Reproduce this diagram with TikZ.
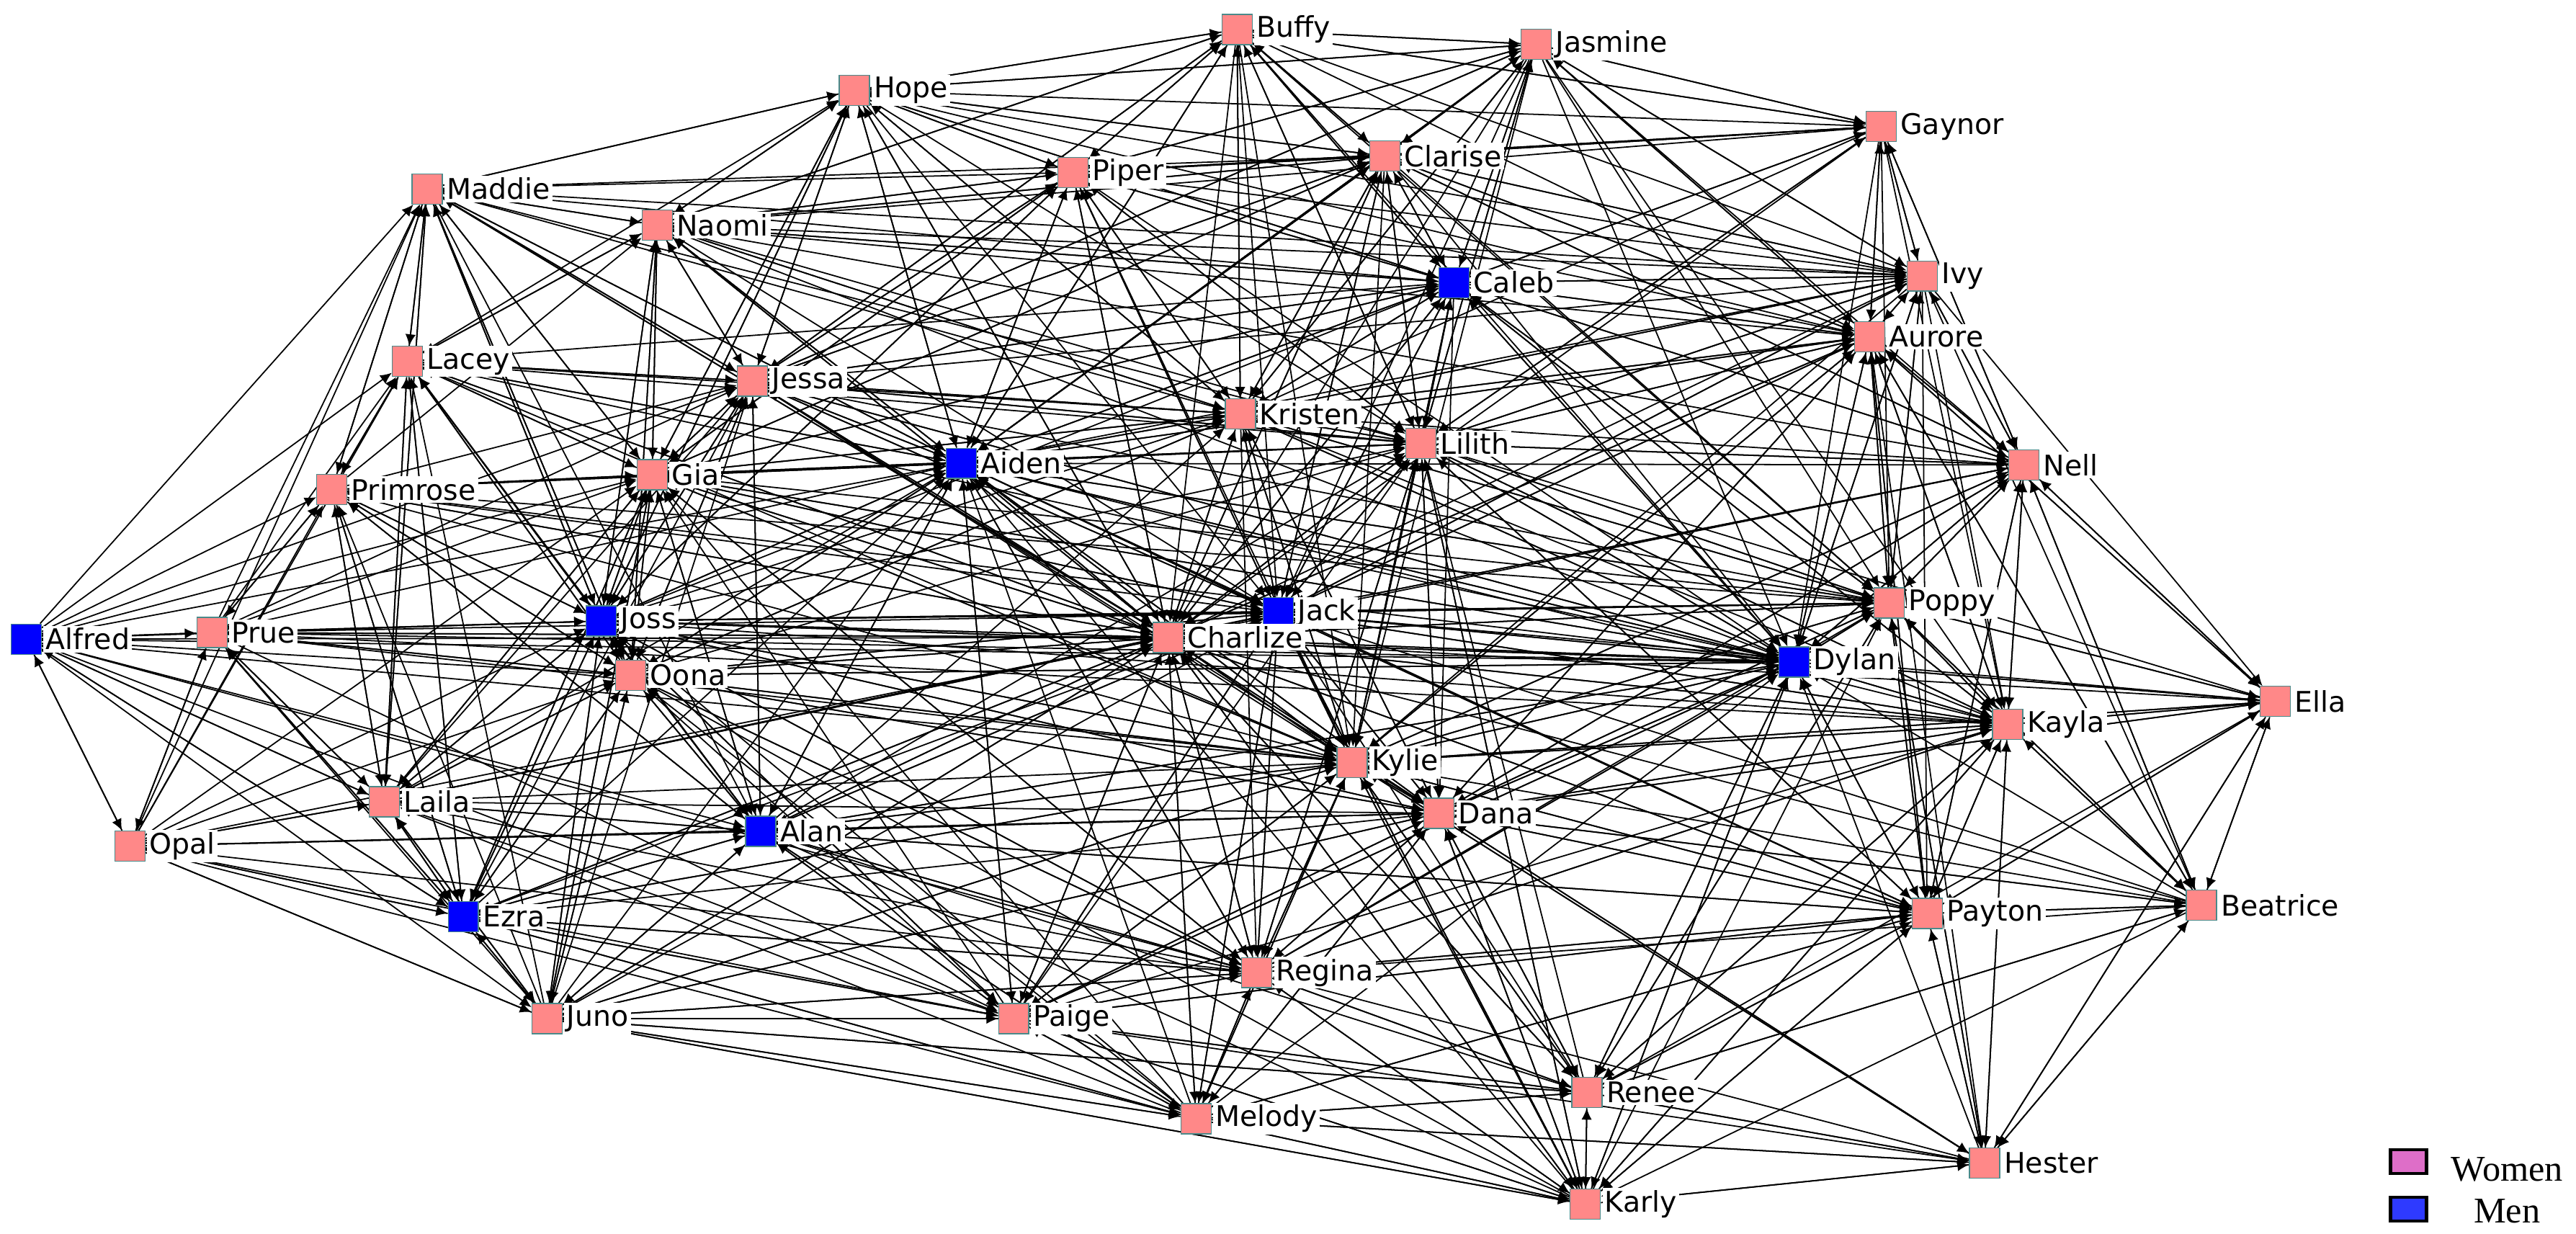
\documentclass[tikz,border=0pt]{standalone}
\usepackage{fontspec}
\setmainfont{Liberation Serif}
\newfontfamily\namefont{DejaVu Sans}
\usetikzlibrary{arrows.meta,backgrounds}
\definecolor{womanpink}{HTML}{FF8888}
\definecolor{manblue}{HTML}{0000FF}
\definecolor{boxedge}{HTML}{4A8A8A}
\definecolor{legpink}{HTML}{DE6EC8}
\definecolor{legblue}{HTML}{2E3AFF}

\begin{document}
\begin{tikzpicture}[x=0.025cm, y=-0.025cm,
        person/.style={rectangle, draw=boxedge, line width=0.4pt, minimum width=0.46cm, minimum height=0.46cm, inner sep=0pt},
        woman/.style={person, fill=womanpink},
        man/.style={person, fill=manblue},
        namebox/.style={fill=white, inner sep=1pt, label distance=0.5pt, font=\namefont\fontsize{12.3}{14}\selectfont},
        legbox/.style={rectangle, draw=black, line width=1.4pt, minimum width=0.55cm, minimum height=0.36cm, inner sep=0pt}
]
    \useasboundingbox (0,0) rectangle (1568,751);

    \node[woman, label={[namebox]0:Buffy}] (Buffy) at (753,18) {};
    \node[woman, label={[namebox]0:Jasmine}] (Jasmine) at (935,27) {};
    \node[woman, label={[namebox]0:Hope}] (Hope) at (520,55) {};
    \node[woman, label={[namebox]0:Gaynor}] (Gaynor) at (1145,77) {};
    \node[woman, label={[namebox]0:Clarise}] (Clarise) at (843,95) {};
    \node[woman, label={[namebox]0:Piper}] (Piper) at (653,105) {};
    \node[woman, label={[namebox]0:Maddie}] (Maddie) at (260,115) {};
    \node[woman, label={[namebox]0:Naomi}] (Naomi) at (400,137) {};
    \node[man, label={[namebox]0:Caleb}] (Caleb) at (885,172) {};
    \node[woman, label={[namebox]0:Ivy}] (Ivy) at (1170,168) {};
    \node[woman, label={[namebox]0:Aurore}] (Aurore) at (1138,205) {};
    \node[woman, label={[namebox]0:Lacey}] (Lacey) at (248,220) {};
    \node[woman, label={[namebox]0:Jessa}] (Jessa) at (458,232) {};
    \node[woman, label={[namebox]0:Kristen}] (Kristen) at (755,252) {};
    \node[woman, label={[namebox]0:Lilith}] (Lilith) at (865,270) {};
    \node[man, label={[namebox]0:Aiden}] (Aiden) at (585,282) {};
    \node[woman, label={[namebox]0:Nell}] (Nell) at (1232,283) {};
    \node[woman, label={[namebox]0:Primrose}] (Primrose) at (202,298) {};
    \node[woman, label={[namebox]0:Gia}] (Gia) at (397,289) {};
    \node[woman, label={[namebox]0:Poppy}] (Poppy) at (1150,367) {};
    \node[man, label={[namebox]0:Jack}] (Jack) at (778,373) {};
    \node[man, label={[namebox]0:Joss}] (Joss) at (366,378) {};
    \node[man, label={[namebox]0:Alfred}] (Alfred) at (16,389) {};
    \node[woman, label={[namebox]0:Prue}] (Prue) at (129,385) {};
    \node[woman, label={[namebox]0:Charlize}] (Charlize) at (711,388) {};
    \node[woman, label={[namebox]0:Oona}] (Oona) at (384,411) {};
    \node[man, label={[namebox]0:Dylan}] (Dylan) at (1092,403) {};
    \node[woman, label={[namebox]0:Ella}] (Ella) at (1385,427) {};
    \node[woman, label={[namebox]0:Kayla}] (Kayla) at (1222,441) {};
    \node[woman, label={[namebox]0:Kylie}] (Kylie) at (823,464) {};
    \node[woman, label={[namebox]0:Dana}] (Dana) at (876,495) {};
    \node[woman, label={[namebox]0:Laila}] (Laila) at (234,488) {};
    \node[man, label={[namebox]0:Alan}] (Alan) at (463,506) {};
    \node[woman, label={[namebox]0:Opal}] (Opal) at (79,515) {};
    \node[man, label={[namebox]0:Ezra}] (Ezra) at (282,558) {};
    \node[woman, label={[namebox]0:Beatrice}] (Beatrice) at (1340,551) {};
    \node[woman, label={[namebox]0:Payton}] (Payton) at (1173,556) {};
    \node[woman, label={[namebox]0:Regina}] (Regina) at (765,592) {};
    \node[woman, label={[namebox]0:Juno}] (Juno) at (333,620) {};
    \node[woman, label={[namebox]0:Paige}] (Paige) at (617,620) {};
    \node[woman, label={[namebox]0:Renee}] (Renee) at (966,665) {};
    \node[woman, label={[namebox]0:Melody}] (Melody) at (728,681) {};
    \node[woman, label={[namebox]0:Hester}] (Hester) at (1208,708) {};
    \node[woman, label={[namebox]0:Karly}] (Karly) at (965,733) {};

    % legend
    \node[legbox, fill=legpink] (legwomen) at (1466,707) {};
    \node[legbox, fill=legblue] (legmen) at (1466,736) {};
    \node[font=\fontsize{15.7}{18}\selectfont, inner sep=0pt] (womentext) at (1526,712) {Women};
    \node[font=\fontsize{15.7}{18}\selectfont, inner sep=0pt] (mentext) at (1526,737) {Men};

\begin{pgfonlayer}{background}
\begin{scope}[-{Latex[length=5pt,width=4.5pt]}, line width=0.55pt]
    \foreach \src/\dsts in {
        Alfred/{Prue,Opal,Laila,Joss,Oona,Maddie,Primrose,Lacey,Charlize,Ezra,Juno,Alan,Kylie,Gia,Jessa,Aiden,Dylan,Paige,Regina},
        Prue/{Joss,Oona,Alfred,Laila,Lacey,Primrose,Maddie,Gia,Charlize,Jessa,Ezra,Opal,Dylan,Kylie,Jack,Aiden,Paige,Kayla},
        Opal/{Alfred,Prue,Laila,Primrose,Lacey,Joss,Alan,Ezra,Juno,Melody,Gia,Charlize,Maddie,Oona,Regina,Paige,Dana},
        Primrose/{Lacey,Maddie,Gia,Joss,Laila,Prue,Aiden,Jessa,Ezra,Oona,Naomi,Charlize,Kylie,Dylan,Jack,Alan,Poppy},
        Lacey/{Maddie,Primrose,Gia,Jessa,Laila,Joss,Naomi,Aiden,Hope,Oona,Ezra,Kristen,Charlize,Lilith,Kylie,Dylan,Alan,Caleb},
        Maddie/{Naomi,Lacey,Jessa,Gia,Hope,Piper,Clarise,Primrose,Joss,Caleb,Aiden,Laila,Charlize,Kristen,Lilith,Ivy,Oona,Alan},
        Naomi/{Maddie,Hope,Jessa,Gia,Piper,Clarise,Caleb,Aiden,Joss,Lacey,Buffy,Kristen,Ivy,Oona,Lilith,Aurore,Charlize,Dylan,Jack,Nell},
        Hope/{Buffy,Piper,Naomi,Clarise,Jessa,Maddie,Jasmine,Caleb,Gia,Kristen,Aiden,Gaynor,Lilith,Ivy,Aurore,Charlize,Jack,Joss},
        Piper/{Buffy,Clarise,Hope,Jasmine,Caleb,Kristen,Naomi,Jessa,Aiden,Lilith,Charlize,Ivy,Gaynor,Aurore,Dylan,Jack,Kylie,Gia,Joss},
        Buffy/{Jasmine,Clarise,Piper,Hope,Caleb,Kristen,Lilith,Aurore,Ivy,Charlize,Gaynor,Aiden,Jessa,Naomi,Dylan,Poppy,Jack,Kylie},
        Jasmine/{Buffy,Clarise,Gaynor,Caleb,Ivy,Aurore,Piper,Lilith,Kristen,Hope,Nell,Poppy,Aiden,Jessa,Dylan,Jack,Kayla,Charlize,Kylie},
        Gaynor/{Ivy,Aurore,Jasmine,Clarise,Caleb,Nell,Buffy,Piper,Dylan,Lilith,Kristen,Poppy,Kayla,Charlize,Naomi},
        Clarise/{Buffy,Jasmine,Caleb,Piper,Gaynor,Ivy,Aurore,Lilith,Kristen,Hope,Naomi,Jack,Charlize,Dylan,Aiden,Jessa,Gia,Poppy,Kylie,Nell},
        Caleb/{Clarise,Ivy,Aurore,Lilith,Jasmine,Buffy,Kristen,Aiden,Gaynor,Piper,Jack,Dylan,Charlize,Kylie,Poppy,Jessa,Gia,Naomi,Hope,Nell,Kayla,Dana},
        Ivy/{Aurore,Gaynor,Jasmine,Caleb,Clarise,Nell,Poppy,Dylan,Lilith,Ella,Kayla,Kristen,Aiden,Charlize,Jack,Payton,Beatrice,Kylie},
        Aurore/{Ivy,Gaynor,Caleb,Nell,Poppy,Dylan,Clarise,Jasmine,Lilith,Kayla,Ella,Beatrice,Payton,Kristen,Aiden,Jack,Charlize,Kylie,Dana,Hester},
        Nell/{Aurore,Ivy,Poppy,Kayla,Dylan,Ella,Beatrice,Payton,Caleb,Lilith,Gaynor,Jack,Charlize,Kylie,Kristen,Dana,Aiden,Clarise},
        Poppy/{Dylan,Kayla,Payton,Ella,Aurore,Nell,Ivy,Charlize,Jack,Lilith,Kylie,Beatrice,Hester,Aiden,Kristen,Dana,Caleb,Joss,Renee},
        Dylan/{Poppy,Kayla,Payton,Charlize,Jack,Kylie,Dana,Aurore,Lilith,Caleb,Ella,Ivy,Nell,Aiden,Joss,Renee,Karly,Gia,Jessa,Oona,Kristen,Regina,Alan,Paige},
        Kayla/{Dylan,Poppy,Ella,Payton,Beatrice,Nell,Kylie,Dana,Aurore,Charlize,Jack,Hester,Lilith,Aiden,Caleb,Regina,Karly,Joss,Renee},
        Ella/{Kayla,Beatrice,Nell,Poppy,Dylan,Payton,Hester,Aurore,Kylie,Dana,Charlize,Lilith,Jack,Renee},
        Beatrice/{Ella,Payton,Kayla,Hester,Nell,Dylan,Poppy,Dana,Renee,Kylie,Charlize,Regina,Jack,Karly,Aurore},
        Payton/{Beatrice,Kayla,Dylan,Poppy,Hester,Dana,Kylie,Regina,Renee,Ella,Karly,Nell,Paige,Charlize,Jack,Lilith,Aurore,Alan,Melody,Aiden},
        Hester/{Payton,Ella,Beatrice,Karly,Renee,Dana,Kylie,Regina,Kayla,Dylan,Melody,Poppy},
        Karly/{Renee,Melody,Dana,Kylie,Regina,Hester,Payton,Paige,Dylan,Kayla,Charlize,Jack,Lilith,Alan,Juno,Aiden,Oona,Poppy},
        Renee/{Karly,Melody,Hester,Dana,Regina,Payton,Kylie,Paige,Dylan,Beatrice,Kayla,Alan,Juno,Charlize,Jack,Lilith,Poppy},
        Melody/{Paige,Regina,Karly,Renee,Juno,Kylie,Dana,Charlize,Alan,Hester,Aiden,Ezra,Oona,Joss,Gia,Jack,Laila,Payton,Dylan},
        Paige/{Regina,Melody,Juno,Alan,Karly,Renee,Charlize,Kylie,Dana,Ezra,Oona,Payton,Jack,Aiden,Hester,Gia,Joss,Laila,Lilith,Dylan,Kayla},
        Regina/{Paige,Melody,Renee,Karly,Kylie,Dana,Charlize,Payton,Jack,Alan,Dylan,Juno,Kayla,Oona,Joss,Aiden,Gia,Lilith,Ezra,Poppy},
        Juno/{Ezra,Paige,Melody,Alan,Laila,Oona,Joss,Opal,Regina,Renee,Karly,Gia,Charlize,Dana,Jessa,Aiden,Kylie,Jack,Prue,Primrose,Lacey},
        Ezra/{Juno,Laila,Alan,Opal,Oona,Joss,Paige,Prue,Alfred,Gia,Primrose,Charlize,Melody,Lacey,Jessa,Aiden,Kylie,Regina,Dana,Jack},
        Laila/{Prue,Ezra,Opal,Alan,Joss,Oona,Lacey,Primrose,Juno,Gia,Alfred,Charlize,Kylie,Jessa,Maddie,Aiden,Dana,Jack,Regina},
        Alan/{Laila,Ezra,Juno,Oona,Joss,Paige,Charlize,Kylie,Dana,Regina,Gia,Aiden,Opal,Melody,Jessa,Jack,Lilith,Kristen,Primrose,Dylan,Payton},
        Oona/{Joss,Gia,Alan,Laila,Ezra,Juno,Charlize,Aiden,Prue,Jessa,Primrose,Kylie,Jack,Naomi,Maddie,Lacey,Kristen,Lilith,Dylan,Dana,Regina},
        Joss/{Oona,Prue,Gia,Charlize,Jack,Aiden,Jessa,Lacey,Primrose,Alan,Laila,Ezra,Juno,Dylan,Maddie,Naomi,Kylie,Hope,Piper,Kristen,Lilith,Caleb,Poppy,Dana,Regina,Paige},
        Gia/{Jessa,Joss,Oona,Aiden,Lacey,Primrose,Maddie,Naomi,Charlize,Alan,Kristen,Hope,Laila,Jack,Caleb,Piper,Clarise,Lilith,Kylie,Dylan,Poppy,Regina,Juno,Ezra},
        Jessa/{Gia,Naomi,Maddie,Aiden,Hope,Piper,Joss,Lacey,Charlize,Kristen,Clarise,Caleb,Oona,Lilith,Kylie,Jack,Dylan,Buffy,Jasmine,Dana,Alan,Poppy,Ivy},
        Aiden/{Jessa,Gia,Kristen,Charlize,Jack,Piper,Hope,Lilith,Caleb,Joss,Oona,Naomi,Clarise,Buffy,Kylie,Alan,Dylan,Maddie,Lacey,Primrose,Regina,Paige,Poppy,Jasmine,Aurore,Dana},
        Kristen/{Lilith,Caleb,Clarise,Buffy,Piper,Aiden,Jack,Charlize,Jasmine,Kylie,Dylan,Aurore,Ivy,Jessa,Gia,Naomi,Hope,Poppy,Dana,Regina,Kayla,Oona},
        Lilith/{Caleb,Kristen,Clarise,Jasmine,Buffy,Ivy,Aurore,Jack,Kylie,Dana,Dylan,Charlize,Nell,Poppy,Aiden,Gia,Jessa,Piper,Regina,Kayla,Payton,Karly,Gaynor},
        Jack/{Charlize,Kylie,Dylan,Lilith,Kristen,Aiden,Caleb,Dana,Poppy,Kayla,Joss,Oona,Regina,Karly,Paige,Gia,Jessa,Piper,Clarise,Aurore,Ivy,Nell,Payton,Melody,Alan},
        Charlize/{Jack,Kylie,Aiden,Joss,Oona,Gia,Jessa,Dana,Lilith,Kristen,Regina,Paige,Dylan,Alan,Melody,Karly,Poppy,Kayla,Caleb,Clarise,Piper,Hope,Naomi,Maddie,Lacey,Primrose,Prue,Laila,Ezra,Juno,Aurore,Payton,Renee},
        Kylie/{Dana,Charlize,Jack,Lilith,Regina,Karly,Renee,Melody,Paige,Dylan,Kayla,Payton,Alan,Juno,Caleb,Poppy,Kristen,Aiden,Joss,Oona,Gia,Aurore,Nell,Ezra,Hester,Ella},
        Dana/{Kylie,Karly,Renee,Regina,Payton,Kayla,Dylan,Charlize,Hester,Melody,Beatrice,Jack,Lilith,Alan,Paige,Oona,Joss,Aiden,Kristen,Poppy,Aurore,Nell,Ella,Juno}}
        \foreach \dst in \dsts
            \draw (\src) -- (\dst);
\end{scope}
\end{pgfonlayer}

\end{tikzpicture}
\end{document}
